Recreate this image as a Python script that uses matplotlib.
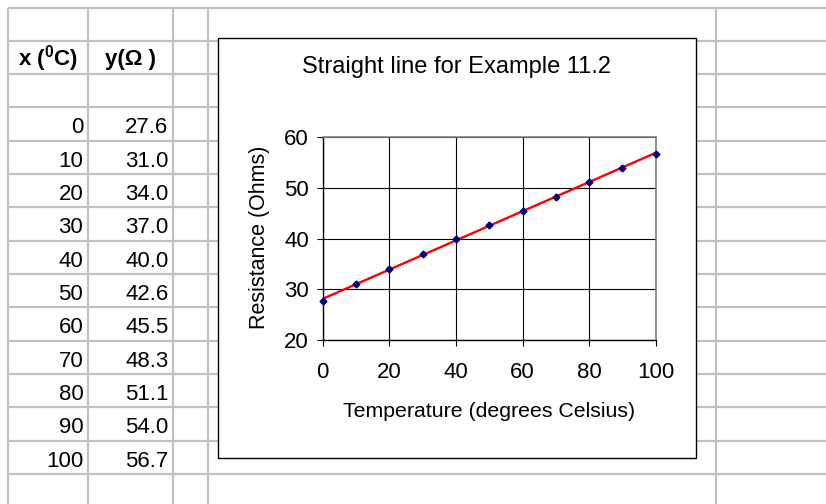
import matplotlib
matplotlib.use('Agg')
import matplotlib.pyplot as plt
from matplotlib.patches import Rectangle
import numpy as np

plt.rcParams['font.family'] = ['Liberation Sans', 'DejaVu Sans']
plt.rcParams['mathtext.fontset'] = 'custom'
plt.rcParams['mathtext.rm'] = 'Liberation Sans'
plt.rcParams['mathtext.bf'] = 'Liberation Sans:bold'

# data from the sheet
temp = [0, 10, 20, 30, 40, 50, 60, 70, 80, 90, 100]
resist = [27.6, 31.0, 34.0, 37.0, 40.0, 42.6, 45.5, 48.3, 51.1, 54.0, 56.7]
head_x = r'x ($^\mathbf{0}$C)'
head_y = 'y(Ω )'
title = 'Straight line for Example 11.2'
xlab = 'Temperature (degrees Celsius)'
ylab = 'Resistance (Ohms)'
xticks = [0, 20, 40, 60, 80, 100]
yticks = [20, 30, 40, 50, 60]

W, H = 826, 504
fig = plt.figure(figsize=(W / 100, H / 100), dpi=100)

# background "spreadsheet" in pixel coords
bg = fig.add_axes([0, 0, 1, 1])
bg.set_xlim(0, W)
bg.set_ylim(H, 0)
bg.axis('off')

rows = 7.5 + 33.33 * np.arange(15)
cols = [7.5, 88.3, 173.3, 208, 716]
for y in rows:
    bg.plot([cols[0], W], [y, y], color='#c0c0c0', lw=1.6, zorder=1,
            solid_capstyle='butt')
for x in cols:
    bg.plot([x, x], [rows[0], H], color='#c0c0c0', lw=1.6, zorder=1,
            solid_capstyle='butt')

# header row
bg.text((cols[0] + cols[1]) / 2, rows[2] - 9, head_x, ha='center',
        va='baseline', fontsize=16, fontweight='bold')
bg.text((cols[1] + cols[2]) / 2, rows[2] - 9, head_y, ha='center',
        va='baseline', fontsize=16, fontweight='bold')

# values, right aligned
for i in range(len(temp)):
    yb = rows[4 + i] - 7.5
    bg.text(cols[1] - 5, yb, str(temp[i]), ha='right', va='baseline', fontsize=16)
    bg.text(cols[2] - 5, yb, '%.1f' % resist[i], ha='right', va='baseline',
            fontsize=16)

# chart box
bg.add_patch(Rectangle((218, 37.7), 696 - 218, 457.5 - 37.7, facecolor='white',
                       edgecolor='black', lw=1.0, zorder=2))
bg.text(456, 73, title, ha='center', va='baseline', fontsize=17, zorder=3)

# plot area
ax = fig.add_axes([322.7 / W, 1 - 340 / H, 333 / W, 202.7 / H])
ax.set_xlim(0, 100)
ax.set_ylim(20, 60)
ax.set_xticks(xticks)
ax.set_yticks(yticks)
ax.grid(True, color='black', lw=0.8)
ax.set_axisbelow(True)
for s in ['top', 'right']:
    ax.spines[s].set_color('#808080')
    ax.spines[s].set_linewidth(1.2)
for s in ['left', 'bottom']:
    ax.spines[s].set_color('black')
    ax.spines[s].set_linewidth(1.0)
ax.tick_params(direction='out', length=4, width=0.8, labelsize=16)
ax.tick_params(axis='x', pad=12)
ax.tick_params(axis='y', pad=6)

slope, icpt = np.polyfit(temp, resist, 1)
xx = np.array([min(temp), max(temp)])
ax.plot(xx, icpt + slope * xx, color='red', lw=1.7, zorder=3)
ax.plot(temp, resist, ls='none', marker='D', ms=3.5, color='#000080', zorder=4,
        clip_on=False)

ax.set_xlabel(xlab, fontsize=15.3)
ax.set_ylabel(ylab, fontsize=15.5)
ax.xaxis.set_label_coords(0.5, -0.305)
ax.yaxis.set_label_coords(-0.158, 0.506)

fig.savefig('out.png', dpi=100)
